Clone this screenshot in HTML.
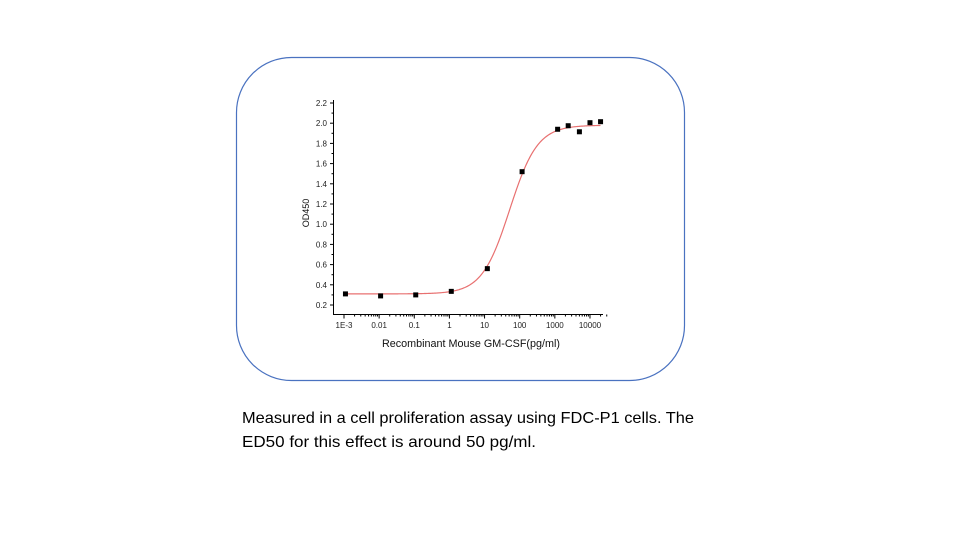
<!DOCTYPE html>
<html><head><meta charset="utf-8"><style>
html,body{margin:0;padding:0;background:#fff;}
svg{display:block;}
</style></head><body>
<svg id="c" width="980" height="551" xmlns="http://www.w3.org/2000/svg">
<rect x="236.5" y="57.5" width="448" height="323" rx="55" ry="55" fill="none" stroke="#4a72c0" stroke-width="1.2"/>
<g id="plot"></g>
<text x="242" y="423" font-family="Liberation Sans, sans-serif" font-size="16" textLength="452" lengthAdjust="spacingAndGlyphs" fill="#000">Measured in a cell proliferation assay using FDC-P1 cells. The</text>
<text x="242" y="447" font-family="Liberation Sans, sans-serif" font-size="16" textLength="294" lengthAdjust="spacingAndGlyphs" fill="#000">ED50 for this effect is around 50 pg/ml.</text>
</svg>
<script>
const xValues=[0.0011,0.011,0.11,1.13,12,117,1200,2400,5000,10000,20000];
const yValues=[0.31,0.29,0.30,0.335,0.56,1.52,1.94,1.975,1.915,2.005,2.015];
const yTicks=[0.2,0.4,0.6,0.8,1.0,1.2,1.4,1.6,1.8,2.0,2.2];
const xTicks=[0.001,0.01,0.1,1,10,100,1000,10000];
const xTickLabels=["1E-3","0.01","0.1","1","10","100","1000","10000"];
const fitBottom=0.31, fitTop=1.98, fitEC50=52, fitHill=1.1;

const NS="http://www.w3.org/2000/svg";
const g=document.getElementById('plot');
function X(v){return 344+(Math.log10(v)+3)*35.14;}
function Y(v){return 305-(v-0.2)*101;}
function mk(t,a,txt){const e=document.createElementNS(NS,t);for(const k in a)e.setAttribute(k,a[k]);if(txt!==undefined)e.textContent=txt;g.appendChild(e);return e;}
const axisStyle={stroke:"#000","stroke-width":1,fill:"none"};
let e;
e=mk('line',Object.assign({x1:333.5,y1:100,x2:333.5,y2:314.5},axisStyle));


e=mk('line',Object.assign({x1:333,y1:314.5,x2:603,y2:314.5},axisStyle));


yTicks.forEach(v=>{const y=Y(v);
 e=mk('line',{x1:330,y1:y,x2:333.5,y2:y,stroke:"#000"});
 
 
 e=mk('text',{x:327,y:y+3,"text-anchor":"end","font-family":"Liberation Sans, sans-serif","font-size":8,fill:"#222"},v.toFixed(1));
 
 
});
yTicks.slice(0,-1).forEach(v=>{const y=Y(v+0.1);
 e=mk('line',{x1:331.5,y1:y,x2:333.5,y2:y,stroke:"#000"});
 
 
});
xTicks.forEach((v,i)=>{const x=X(v);
 e=mk('line',{x1:x,y1:314.5,x2:x,y2:318.5,stroke:"#000"});
 
 
 e=mk('text',{x:x,y:328,"text-anchor":"middle","font-family":"Liberation Sans, sans-serif","font-size":8,fill:"#222"},xTickLabels[i]);
 
 
 if(i<xTicks.length-1){for(let m=2;m<10;m++){const xm=X(v*m);
  e=mk('line',{x1:xm,y1:314.5,x2:xm,y2:316.5,stroke:"#000"});
  
  }}
});
for(let m=2;m<=3;m++){const xm=X(10000*m);
 e=mk('line',{x1:xm,y1:314.5,x2:xm,y2:316.5,stroke:"#000"});
 
 }
e=mk('text',{x:471,y:347,"text-anchor":"middle","font-family":"Liberation Sans, sans-serif","font-size":11,textLength:178,lengthAdjust:"spacingAndGlyphs",fill:"#111"},"Recombinant Mouse GM-CSF(pg/ml)");


e=mk('text',{x:0,y:0,"text-anchor":"middle","font-family":"Liberation Sans, sans-serif","font-size":9,fill:"#111",transform:"translate(309,213) rotate(-90)"},"OD450");


let d="";
for(let i=0;i<=300;i++){const lx=-3+i*(7.3/300);const v=Math.pow(10,lx);
 const y=fitBottom+(fitTop-fitBottom)/(1+Math.pow(fitEC50/v,fitHill));
 d+=(i?"L":"M")+X(v).toFixed(2)+","+Y(y).toFixed(2);}
e=mk('path',{d:d,stroke:"#e87070","stroke-width":1.2,fill:"none"});


xValues.forEach((xv,i)=>{
 e=mk('rect',{x:X(xv)-2.5,y:Y(yValues[i])-2.5,width:5,height:5,fill:"#000"});
 
 
});
</script>
</body></html>
